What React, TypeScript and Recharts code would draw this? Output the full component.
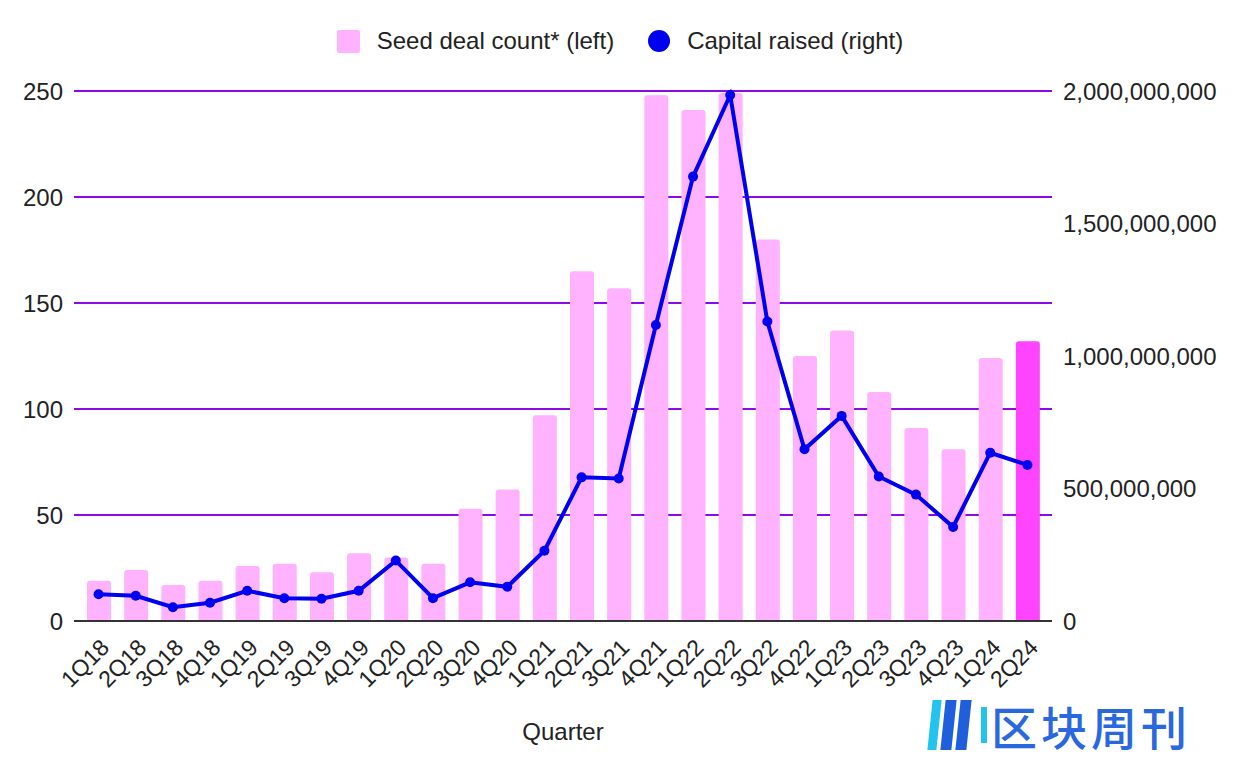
import React from 'react';
import {
  ComposedChart,
  Bar,
  Line,
  Cell,
  XAxis,
  YAxis,
  CartesianGrid,
  Legend,
} from 'recharts';

const quarters = [
  '1Q18', '2Q18', '3Q18', '4Q18', '1Q19', '2Q19', '3Q19', '4Q19',
  '1Q20', '2Q20', '3Q20', '4Q20', '1Q21', '2Q21', '3Q21', '4Q21',
  '1Q22', '2Q22', '3Q22', '4Q22', '1Q23', '2Q23', '3Q23', '4Q23',
  '1Q24', '2Q24',
];

const seedDealCount = [
  19, 24, 17, 19, 26, 27, 23, 32,
  30, 27, 53, 62, 97, 165, 157, 248,
  241, 249, 180, 125, 137, 108, 91, 81,
  124, 132,
];

const capitalRaised = [
  101e6, 95e6, 52e6, 69e6, 114e6, 86e6, 84e6, 114e6,
  228e6, 86e6, 146e6, 129e6, 265e6, 542e6, 538e6, 1117e6,
  1677e6, 1985e6, 1130e6, 648e6, 774e6, 545e6, 477e6, 355e6,
  635e6, 589e6,
];

const leftTicks = [0, 50, 100, 150, 200, 250];
const rightTicks = [0, 500000000, 1000000000, 1500000000, 2000000000];

const data = quarters.map((quarter, i) => ({
  quarter,
  deals: seedDealCount[i],
  capital: capitalRaised[i],
}));

const FONT = '"Liberation Sans", Arial, Helvetica, sans-serif';
const PINK = '#ffb3ff';
const MAGENTA = '#ff44ff';
const BLUE = '#0000f0';
const GRID = '#8b0ae8';

const QuarterTick = (props: any) => {
  const { x, y, payload } = props;
  const tx = x + 12;
  const ty = y + 20;
  return (
    <text
      x={tx}
      y={ty}
      textAnchor="end"
      transform={`rotate(-45 ${tx} ${ty})`}
      fontSize={23}
      fontFamily={FONT}
      fill="#222"
    >
      {payload.value}
    </text>
  );
};

const LegendContent = () => (
  <div
    style={{
      height: 91,
      width: 1240,
      display: 'flex',
      justifyContent: 'center',
      alignItems: 'flex-start',
      paddingTop: 27,
      boxSizing: 'border-box',
      fontFamily: FONT,
      fontSize: 24,
      color: '#222',
    }}
  >
    <div style={{ display: 'flex', alignItems: 'center', marginRight: 34 }}>
      <span
        style={{
          width: 23,
          height: 23,
          background: PINK,
          borderRadius: 2,
          display: 'inline-block',
          marginRight: 17,
        }}
      />
      <span>Seed deal count* (left)</span>
    </div>
    <div style={{ display: 'flex', alignItems: 'center' }}>
      <span
        style={{
          width: 22,
          height: 22,
          background: BLUE,
          borderRadius: '50%',
          display: 'inline-block',
          marginRight: 17,
        }}
      />
      <span>Capital raised (right)</span>
    </div>
  </div>
);

const App = () => {
  return (
    <div
      style={{
        position: 'absolute',
        left: 0,
        top: 0,
        width: 1240,
        height: 770,
        background: '#fff',
      }}
    >
      <ComposedChart
        width={1240}
        height={770}
        data={data}
        margin={{ top: 0, right: 0, bottom: 0, left: 0 }}
      >
        <CartesianGrid
          yAxisId="left"
          vertical={false}
          stroke={GRID}
          strokeWidth={2}
        />
        <XAxis
          dataKey="quarter"
          interval={0}
          height={149}
          padding={{ left: 6, right: 6 }}
          tickLine={false}
          axisLine={{ stroke: '#333', strokeWidth: 2 }}
          tick={<QuarterTick />}
          label={{
            value: 'Quarter',
            position: 'insideBottom',
            offset: 30,
            fontSize: 24,
            fontFamily: FONT,
            fill: '#222',
          }}
        />
        <YAxis
          yAxisId="left"
          domain={[0, 250]}
          ticks={leftTicks}
          width={74}
          tickMargin={5}
          axisLine={false}
          tickLine={false}
          tick={{ fontSize: 24, fontFamily: FONT, fill: '#222' }}
        />
        <YAxis
          yAxisId="right"
          orientation="right"
          domain={[0, 2000000000]}
          ticks={rightTicks}
          width={188}
          tickMargin={5}
          axisLine={false}
          tickLine={false}
          tickFormatter={(v: number) => v.toLocaleString('en-US')}
          tick={{ fontSize: 24, fontFamily: FONT, fill: '#222' }}
        />
        <Legend verticalAlign="top" align="center" content={<LegendContent />} />
        <Bar
          yAxisId="left"
          dataKey="deals"
          barSize={24}
          radius={[3, 3, 0, 0]}
          isAnimationActive={false}
        >
          {data.map((d, i) => (
            <Cell key={d.quarter} fill={i === data.length - 1 ? MAGENTA : PINK} />
          ))}
        </Bar>
        <Line
          yAxisId="right"
          type="linear"
          dataKey="capital"
          stroke={BLUE}
          strokeWidth={4}
          dot={{ r: 5, fill: BLUE, stroke: BLUE, strokeWidth: 0 }}
          activeDot={false}
          isAnimationActive={false}
        />
      </ComposedChart>
      <div
        style={{
          position: 'absolute',
          left: 930,
          top: 700,
          display: 'flex',
          alignItems: 'center',
        }}
      >
        <div style={{ display: 'flex', marginRight: 12 }}>
          <span style={{ width: 9, height: 50, background: '#22c4ee', marginRight: 4, transform: 'skewX(-6deg)' }} />
          <span style={{ width: 11, height: 50, background: '#1f5fdc', marginRight: 4, transform: 'skewX(-6deg)' }} />
          <span style={{ width: 11, height: 50, background: '#1f5fdc', transform: 'skewX(-6deg)' }} />
        </div>
        <span style={{ width: 6, height: 36, background: '#22c4ee', marginRight: 4 }} />
        <span
          style={{
            fontFamily: '"Noto Sans CJK SC", sans-serif',
            fontSize: 46,
            fontWeight: 500,
            color: '#2a68dd',
            letterSpacing: 4,
            lineHeight: 1,
          }}
        >
          区块周刊
        </span>
      </div>
    </div>
  );
};

export default App;
